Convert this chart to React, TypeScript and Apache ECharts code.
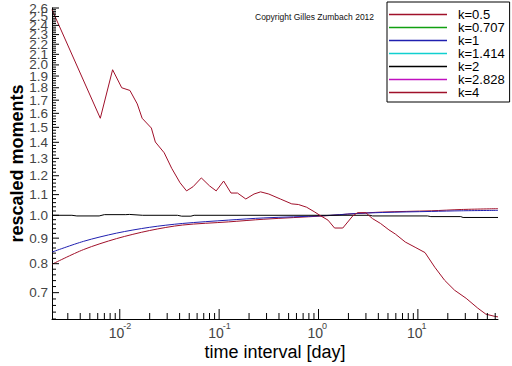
import React, { useEffect, useRef } from "react";
import * as echarts from "echarts";

const FONT = "'Liberation Sans', Arial, Helvetica, sans-serif";

// axis ranges
const X_MIN = 0.00208;
const X_MAX = 64;
const Y_MIN = 0.62;
const Y_MAX = 2.6;

// tick labels
const xTickExponents = ["-2", "-1", "0", "1"];
const xMinorTicks = [
  0.003, 0.004, 0.005, 0.006, 0.007, 0.008, 0.009,
  0.02, 0.03, 0.04, 0.05, 0.06, 0.07, 0.08, 0.09,
  0.2, 0.3, 0.4, 0.5, 0.6, 0.7, 0.8, 0.9,
  2, 3, 4, 5, 6, 7, 8, 9,
  20, 30, 40, 50, 60,
];
const yTickLabels = [
  "0.7", "0.8", "0.9", "1.0", "1.1", "1.2", "1.3", "1.4", "1.5", "1.6",
  "1.7", "1.8", "1.9", "2.0", "2.1", "2.2", "2.3", "2.4", "2.5", "2.6",
];

// legend / series
const seriesNames = ["k=0.5", "k=0.707", "k=1", "k=1.414", "k=2", "k=2.828", "k=4"];
const seriesColors = ["#a0102a", "#10a010", "#2020b0", "#10d0d0", "#000000", "#c010c0", "#a0102a"];

// k=0.5 and k=1
const lowTimes = [0.00208, 0.00433, 0.00927, 0.01986, 0.0426, 0.1236, 0.282, 1.11, 2.36, 4.38, 13.7, 27.3, 64];
const k05Values = [0.798, 0.854, 0.898, 0.932, 0.956, 0.97, 0.982, 0.997, 1.008, 1.015, 1.021, 1.027, 1.031];
const k1Values = [0.844, 0.887, 0.921, 0.946, 0.963, 0.978, 0.988, 0.998, 1.008, 1.013, 1.018, 1.021, 1.023];

// k=2
const k2Times = [0.00208, 0.0033, 0.0037, 0.0062, 0.007, 0.0115, 0.0125, 0.017, 0.038, 0.042, 0.052, 0.056, 3.3, 3.5, 12.5, 13.5, 27, 28.5, 64];
const k2Values = [1.0, 1.0, 0.997, 0.997, 1.003, 1.003, 1.004, 1.0, 1.0, 0.996, 0.996, 1.0, 1.0, 0.997, 0.997, 0.994, 0.994, 0.99, 0.99];

// k=4
const k4Times = [
  0.00208, 0.00637, 0.00847, 0.01047, 0.01265, 0.015, 0.0168, 0.0208, 0.0228, 0.028,
  0.0333, 0.0404, 0.047, 0.0547, 0.0662, 0.0801, 0.0934, 0.111, 0.1316, 0.153,
  0.1855, 0.2244, 0.2614, 0.316, 0.413, 0.538, 0.627, 0.758, 0.918, 1.03,
  1.245, 1.45, 1.755, 2.21, 2.47, 2.99, 3.49, 4.21, 5.11, 5.94,
  7.47, 9.38, 11.8, 14.8, 18.6, 23.4, 30.6, 40.0, 48.3, 58.5, 64,
];
const k4Values = [
  2.58, 1.564, 1.956, 1.8, 1.778, 1.671, 1.564, 1.495, 1.402, 1.334,
  1.242, 1.162, 1.119, 1.141, 1.188, 1.145, 1.119, 1.171, 1.108, 1.108,
  1.078, 1.103, 1.114, 1.103, 1.078, 1.054, 1.051, 1.038, 1.015, 1.0,
  0.978, 0.943, 0.943, 0.997, 1.012, 1.012, 0.985, 0.963, 0.935, 0.917,
  0.884, 0.863, 0.842, 0.787, 0.741, 0.708, 0.682, 0.652, 0.634, 0.628, 0.626,
];

function zip(t: number[], v: number[]) {
  const n = Math.min(t.length, v.length);
  const out: number[][] = [];
  for (let i = 0; i < n; i++) out.push([t[i], v[i]]);
  return out;
}

function buildTickData() {
  const data: any[] = [];
  xMinorTicks.forEach((v) => data.push({ value: [v, Y_MIN, 0, 0] }));
  xTickExponents.forEach((e, i) => data.push({ value: [Math.pow(10, parseFloat(e)), Y_MIN, 1, i] }));
  // y minor ticks every 0.02
  for (let k = 31; k <= 130; k++) {
    if (k % 5 === 0) continue;
    data.push({ value: [X_MIN, k / 50, 2, 0] });
  }
  yTickLabels.forEach((l, i) => data.push({ value: [X_MIN, parseFloat(l), 3, i] }));
  return data;
}

function renderTick(params: any, api: any) {
  const p = api.coord([api.value(0), api.value(1)]);
  const kind = api.value(2);
  const idx = api.value(3);
  const stroke = { stroke: "#000", lineWidth: 1 };
  if (kind === 0) {
    return { type: "line", shape: { x1: p[0], y1: p[1], x2: p[0], y2: p[1] - 6 }, style: stroke };
  }
  if (kind === 1) {
    return {
      type: "group",
      children: [
        { type: "line", shape: { x1: p[0], y1: p[1], x2: p[0], y2: p[1] - 10 }, style: stroke },
        {
          type: "text", x: p[0] - 11, y: p[1] + 14,
          style: { text: "10", fill: "#444", fontSize: 14, fontFamily: FONT, align: "left", verticalAlign: "middle" },
        },
        {
          type: "text", x: p[0] + 3.5, y: p[1] + 7,
          style: { text: xTickExponents[idx], fill: "#444", fontSize: 9, fontFamily: FONT, align: "left", verticalAlign: "middle" },
        },
      ],
    };
  }
  if (kind === 2) {
    return { type: "line", shape: { x1: p[0], y1: p[1], x2: p[0] + 4, y2: p[1] }, style: stroke };
  }
  return {
    type: "group",
    children: [
      { type: "line", shape: { x1: p[0], y1: p[1], x2: p[0] + 7, y2: p[1] }, style: stroke },
      {
        type: "text", x: p[0] - 4, y: p[1],
        style: { text: yTickLabels[idx], fill: "#444", fontSize: 13.5, fontFamily: FONT, align: "right", verticalAlign: "middle" },
      },
    ],
  };
}

export default function App() {
  const ref = useRef<HTMLDivElement>(null);
  useEffect(() => {
    if (!ref.current) return;
    const chart = echarts.init(ref.current, null, { renderer: "svg" });
    const lineData = [
      zip(lowTimes, k05Values),
      [],
      zip(lowTimes, k1Values),
      [],
      zip(k2Times, k2Values),
      [],
      zip(k4Times, k4Values),
    ];
    const series: any[] = seriesNames.map((name, i) => ({
      name,
      type: "line",
      data: lineData[i],
      showSymbol: false,
      symbol: "none",
      smooth: i === 0 || i === 2 ? 0.3 : false,
      color: seriesColors[i],
      lineStyle: { color: seriesColors[i], width: 1 },
      z: 2,
    }));
    series.push({
      type: "custom",
      name: "ticks",
      coordinateSystem: "cartesian2d",
      data: buildTickData(),
      renderItem: renderTick,
      encode: { x: 0, y: 1 },
      clip: false,
      silent: true,
      z: 5,
    });
    chart.setOption({
      animation: false,
      backgroundColor: "#fff",
      textStyle: { fontFamily: FONT },
      grid: { left: 46, top: 8, width: 452, height: 318 },
      xAxis: {
        type: "log",
        logBase: 10,
        min: X_MIN,
        max: X_MAX,
        axisLine: { show: true, onZero: false, lineStyle: { color: "#000", width: 1 } },
        axisTick: { show: false },
        axisLabel: { show: false },
        splitLine: { show: false },
        name: "time interval [day]",
        nameLocation: "middle",
        nameGap: 24,
        nameTextStyle: { fontSize: 18, color: "#000", fontFamily: FONT },
      },
      yAxis: {
        type: "log",
        logBase: 10,
        min: Y_MIN,
        max: Y_MAX,
        axisLine: { show: true, onZero: false, lineStyle: { color: "#000", width: 1 } },
        axisTick: { show: false },
        axisLabel: { show: false },
        splitLine: { show: false },
        name: "rescaled moments",
        nameLocation: "middle",
        nameGap: 26,
        nameTextStyle: { fontSize: 18, fontWeight: "bold", color: "#000", fontFamily: FONT },
      },
      legend: {
        data: seriesNames,
        orient: "vertical",
        left: 387,
        top: 2,
        icon: "rect",
        itemWidth: 58,
        itemHeight: 1.5,
        itemGap: 0,
        padding: [6, 5, 3, 2],
        borderColor: "#000",
        borderWidth: 1,
        borderRadius: 0,
        backgroundColor: "#fff",
        textStyle: { fontSize: 13, lineHeight: 13, color: "#000", fontFamily: FONT, padding: [0, 0, 0, 6] },
      },
      graphic: [
        {
          type: "text",
          x: 255,
          y: 16.5,
          style: {
            text: "Copyright Gilles Zumbach 2012",
            fontSize: 8.5,
            fill: "#111",
            fontFamily: FONT,
            verticalAlign: "middle",
          },
        },
      ],
      series,
    });
    return () => chart.dispose();
  }, []);
  return (
    <div
      ref={ref}
      style={{ position: "fixed", left: 0, top: 0, width: 512, height: 366, background: "#fff" }}
    />
  );
}
